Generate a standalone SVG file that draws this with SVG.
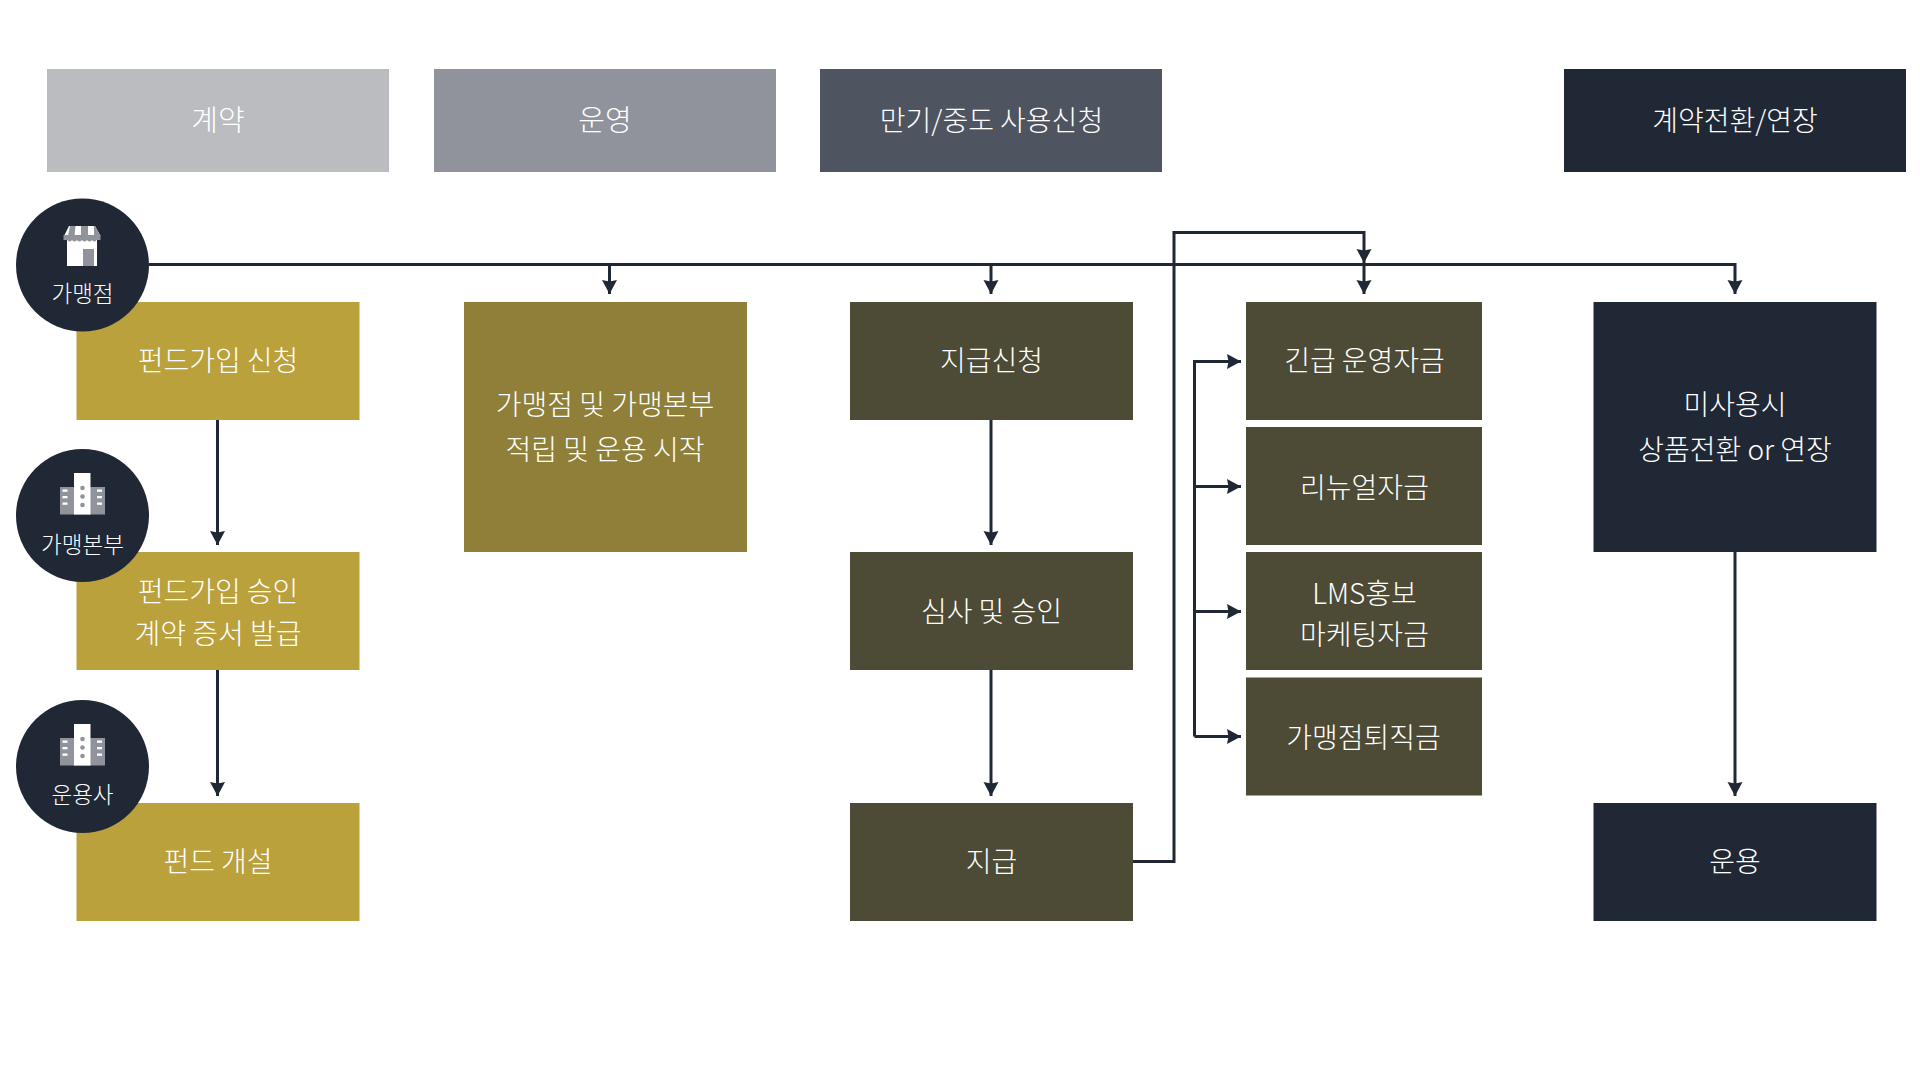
<svg xmlns="http://www.w3.org/2000/svg" width="1920" height="1080" viewBox="0 0 1920 1080">
<style>
text{font-family:"Noto Sans CJK KR","Noto Sans",sans-serif;font-weight:300;fill:#fff;text-anchor:middle;font-size:28px}
.c{font-size:22.500px}
.l{fill:none;stroke:#212835;stroke-width:3}
.g{fill:#BAA13C}.o{fill:#4D4A35}.n{fill:#212835}
.w{fill:#fff}.m{fill:#90939B}
</style>
<defs>
<marker id="a" markerUnits="userSpaceOnUse" markerWidth="16" markerHeight="16" refX="14" refY="7.500" orient="auto"><path d="M0 0L14 7.500L0 15L1.500 7.500Z" fill="#212835"/></marker>
<g id="bld"><rect x="-22" y="-17" width="45" height="27.500" class="m"/><rect x="-8" y="-31" width="16.500" height="41.500" class="w"/><g fill="#90939B"><circle cx="0.500" cy="-16" r="2.300"/><circle cx="0.500" cy="-7.500" r="2.300"/><circle cx="0.500" cy="1" r="2.300"/></g><g class="w"><rect x="-19.500" y="-14.500" width="5" height="2.300"/><rect x="-19.500" y="-8" width="5" height="2.300"/><rect x="-19.500" y="-1.500" width="5" height="2.300"/><rect x="15" y="-14.500" width="5" height="2.300"/><rect x="15" y="-8" width="5" height="2.300"/><rect x="15" y="-1.500" width="5" height="2.300"/></g></g>
</defs>
<rect width="1920" height="1080" fill="#fff"/>
<g id="h1"><rect x="47" y="69" width="342" height="103" fill="#BBBCC0"/><text x="218" y="131" style="font-size:29px">계약</text></g>
<g id="h2"><rect x="434" y="69" width="342" height="103" fill="#90939B"/><text x="605" y="131" style="font-size:29px">운영</text></g>
<g id="h3"><rect x="820" y="69" width="342" height="103" fill="#4E5560"/><text x="991.500" y="131">만기/중도 사용신청</text></g>
<g id="h4"><rect x="1564" y="69" width="342" height="103" class="n"/><text x="1735" y="131">계약전환/연장</text></g>
<g id="connectors">
<path class="l" d="M149 264.500H1735V294" marker-end="url(#a)"/>
<path class="l" d="M609.500 264.500V294" marker-end="url(#a)"/>
<path class="l" d="M991 264.500V294" marker-end="url(#a)"/>
<path class="l" d="M1364 264.500V294" marker-end="url(#a)"/>
<path class="l" d="M1133 861.500H1174V232.500H1364V263" marker-end="url(#a)"/>
<path class="l" d="M217.500 420V545" marker-end="url(#a)"/>
<path class="l" d="M217.500 670V796" marker-end="url(#a)"/>
<path class="l" d="M991 420V545" marker-end="url(#a)"/>
<path class="l" d="M991 670V796" marker-end="url(#a)"/>
<path class="l" d="M1735 552V796" marker-end="url(#a)"/>
<path class="l" d="M1194.500 736.500V361.500H1241" marker-end="url(#a)"/>
<path class="l" d="M1194.500 486.500H1241" marker-end="url(#a)"/>
<path class="l" d="M1194.500 611.500H1241" marker-end="url(#a)"/>
<path class="l" d="M1194.500 736.500H1241" marker-end="url(#a)"/>
</g>
<g id="n1"><rect x="76.500" y="302" width="283" height="118" class="g"/><text x="218" y="371">펀드가입 신청</text></g>
<g id="n2"><rect x="76.500" y="552" width="283" height="118" class="g"/><text x="218" y="602">펀드가입 승인</text><text x="218" y="643.500">계약 증서 발급</text></g>
<g id="n3"><rect x="76.500" y="803" width="283" height="118" class="g"/><text x="218" y="872">펀드 개설</text></g>
<g id="n4"><rect x="464" y="302" width="283" height="250" fill="#8F7F38"/><text x="605" y="414.500">가맹점 및 가맹본부</text><text x="605" y="459.500">적립 및 운용 시작</text></g>
<g id="n5"><rect x="850" y="302" width="283" height="118" class="o"/><text x="991.500" y="371">지급신청</text></g>
<g id="n6"><rect x="850" y="552" width="283" height="118" class="o"/><text x="991.500" y="622">심사 및 승인</text></g>
<g id="n7"><rect x="850" y="803" width="283" height="118" class="o"/><text x="991.500" y="872">지급</text></g>
<g id="n8"><rect x="1246" y="302" width="236" height="118" class="o"/><text x="1364.500" y="371">긴급 운영자금</text></g>
<g id="n9"><rect x="1246" y="427" width="236" height="118" class="o"/><text x="1364.500" y="497.500">리뉴얼자금</text></g>
<g id="n10"><rect x="1246" y="552" width="236" height="118" class="o"/><text x="1364.500" y="603.500">LMS홍보</text><text x="1364.500" y="644.500">마케팅자금</text></g>
<g id="n11"><rect x="1246" y="677.500" width="236" height="118" class="o"/><text x="1363.500" y="748">가맹점퇴직금</text></g>
<g id="n12"><rect x="1593.500" y="302" width="283" height="250" class="n"/><text x="1735" y="414.500">미사용시</text><text x="1735" y="459.500">상품전환 or 연장</text></g>
<g id="n13"><rect x="1593.500" y="803" width="283" height="118" class="n"/><text x="1735" y="872">운용</text></g>
<g id="p1"><circle cx="82.500" cy="265" r="66.500" class="n"/>
<rect x="67" y="238" width="30" height="28" class="w"/><rect x="83" y="249" width="11" height="17" class="m"/>
<path d="M64 236L69 226H95L100.500 236Z" class="w"/><path d="M70 226H75.500L74.500 236H68ZM81 226H88V236H81ZM94 226H95L100.500 236H94Z" class="m"/><path d="M63.500 235H100.500V240H96.500Q94.500 243 92 240Q89.500 243 87 240Q84.500 243 82 240Q79.500 243 77 240Q74.500 243 72 240Q69.500 243 67.500 240H63.500Z" class="m"/>
<text class="c" x="82.500" y="302">가맹점</text></g>
<g id="p2"><circle cx="82.500" cy="515.500" r="66.500" class="n"/><use href="#bld" x="82" y="504"/><text class="c" x="82.500" y="553">가맹본부</text></g>
<g id="p3"><circle cx="82.500" cy="766.500" r="66.500" class="n"/><use href="#bld" x="82" y="755"/><text class="c" x="82.500" y="803">운용사</text></g>
</svg>
